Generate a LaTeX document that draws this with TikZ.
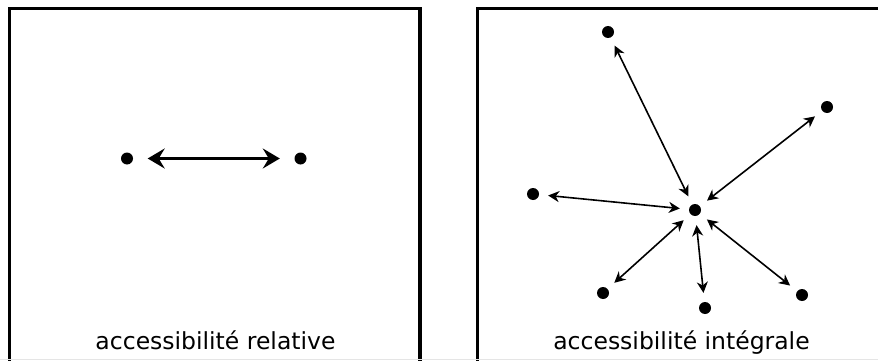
\documentclass[tikz,border=0pt]{standalone}
\usepackage{fontspec}
\setmainfont{DejaVu Sans}
\usetikzlibrary{arrows.meta}
\begin{document}
\begin{tikzpicture}[x=1pt,y=-1pt,
  dot/.style={circle,fill=black,inner sep=0pt,minimum size=12pt},
  frame/.style={line width=3.5pt},
  bigarrow/.style={line width=2.4pt,
    {Stealth[length=17pt,width=20pt,inset=6pt]}-{Stealth[length=17pt,width=20pt,inset=6pt]},
    shorten <=14.5pt, shorten >=14.5pt},
  smallarrow/.style={line width=1.6pt,
    {Stealth[length=11pt,width=11pt,inset=3.5pt]}-{Stealth[length=11pt,width=11pt,inset=3.5pt]},
    shorten <=9pt, shorten >=9pt},
  caption/.style={anchor=base,inner sep=0pt,font=\fontsize{23.5}{28}\selectfont}]
\useasboundingbox (0,0) rectangle (878,361);
\clip (0,0) rectangle (878,361);
\fill[white] (0,0) rectangle (878,361);
% frames
\draw[frame] (9.5,370) -- (9.5,8.5) -- (420,8.5) -- (420,370);
\draw[frame] (477.5,370) -- (477.5,8.5) -- (890,8.5);
\draw[black!10,line width=1pt] (0,359.5) -- (878,359.5);
% left panel
\node[dot] (l1) at (127,158.5) {};
\node[dot] (l2) at (300.5,158.5) {};
\draw[bigarrow] (l1) -- (l2);
\node[caption] (lt) at (215.5,349) {accessibilité relative};
% right panel
\node[dot] (c) at (695,210) {};
\node[dot] (r1) at (608,32) {};
\node[dot] (r2) at (827,107) {};
\node[dot] (r3) at (533,194) {};
\node[dot] (r4) at (603,293) {};
\node[dot] (r5) at (705,308) {};
\node[dot] (r6) at (802,295) {};
\draw[smallarrow] (c) -- (r1);
\draw[smallarrow] (c) -- (r2);
\draw[smallarrow] (c) -- (r3);
\draw[smallarrow] (c) -- (r4);
\draw[smallarrow] (c) -- (r5);
\draw[smallarrow] (c) -- (r6);
\node[caption] (rt) at (681.5,349) {accessibilité intégrale};
\end{tikzpicture}
\end{document}
